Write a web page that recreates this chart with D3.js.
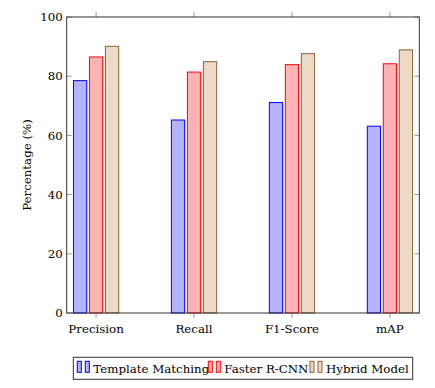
<!DOCTYPE html>
<html>
<head>
<meta charset="utf-8">
<script src="https://cdn.jsdelivr.net/npm/d3@7"></script>
<style>
  body { margin: 0; background: #fff; }
  svg text { font-family: "DejaVu Serif", "Liberation Serif", serif; fill: #000; }
</style>
</head>
<body>
<svg id="chart" width="435" height="388"></svg>
<script>
// values
const categories = ["Precision", "Recall", "F1-Score", "mAP"];
const seriesNames = ["Template Matching", "Faster R-CNN", "Hybrid Model"];
const templateMatching = [78.5, 65.2, 71.1, 63.1];
const fasterRCNN = [86.5, 81.4, 83.9, 84.2];
const hybridModel = [90.1, 84.9, 87.6, 88.9];
const yTicks = [0, 20, 40, 60, 80, 100];

const seriesValues = [templateMatching, fasterRCNN, hybridModel];
const fills = ["#b3b3ff", "#ffb3b3", "#ecd9c6"];
const strokes = ["#0000ff", "#ff0000", "#8c6239"];

const svg = d3.select("#chart");
const margin = { left: 66.7, top: 17, right: 15.7, bottom: 75 };
const width = 435 - margin.left - margin.right;
const height = 388 - margin.top - margin.bottom;
const fontSize = 11.8;

const g = svg.append("g").attr("transform", `translate(${margin.left},${margin.top})`);

const x = d3.scalePoint().domain(categories).range([0, width]).padding(0.3);
const xInner = d3.scaleBand().domain(seriesNames).range([-24, 24]).paddingInner(0.17).paddingOuter(0.085);
const y = d3.scaleLinear().domain([0, 100]).range([height, 0]);

// bars
seriesNames.forEach((name, si) => {
  g.append("g")
    .selectAll("rect")
    .data(seriesValues[si])
    .enter()
    .append("rect")
    .attr("x", (d, i) => x(categories[i]) + xInner(name))
    .attr("y", (d) => y(d))
    .attr("width", xInner.bandwidth())
    .attr("height", (d) => y(0) - y(d))
    .attr("fill", fills[si])
    .attr("stroke", strokes[si])
    .attr("stroke-width", 1);
});

// ticks: y inside on both sides, x outside top and bottom
const tickColor = "#999";
g.selectAll(".ytl").data(yTicks).enter().append("line")
  .attr("x1", 0).attr("x2", 5).attr("y1", (d) => y(d)).attr("y2", (d) => y(d))
  .attr("stroke", tickColor);
g.selectAll(".ytr").data(yTicks).enter().append("line")
  .attr("x1", width).attr("x2", width - 5).attr("y1", (d) => y(d)).attr("y2", (d) => y(d))
  .attr("stroke", tickColor);
g.selectAll(".xtb").data(categories).enter().append("line")
  .attr("x1", (d) => x(d)).attr("x2", (d) => x(d)).attr("y1", height).attr("y2", height + 5)
  .attr("stroke", tickColor);
g.selectAll(".xtt").data(categories).enter().append("line")
  .attr("x1", (d) => x(d)).attr("x2", (d) => x(d)).attr("y1", 0).attr("y2", -5)
  .attr("stroke", tickColor);

// frame
g.append("rect").attr("width", width).attr("height", height)
  .attr("fill", "none").attr("stroke", "#333").attr("stroke-width", 1);

// tick labels
g.selectAll(".ylab").data(yTicks).enter().append("text")
  .attr("x", -4).attr("y", (d) => y(d)).attr("dy", "0.35em")
  .attr("text-anchor", "end").attr("font-size", fontSize)
  .text((d) => d);
g.selectAll(".xlab").data(categories).enter().append("text")
  .attr("x", (d) => x(d)).attr("y", height + 20)
  .attr("text-anchor", "middle").attr("font-size", fontSize)
  .text((d) => d);

// y axis title
g.append("text")
  .attr("transform", `translate(-36,${height / 2}) rotate(-90)`)
  .attr("text-anchor", "middle").attr("font-size", fontSize)
  .text("Percentage (%)");

// legend
const legend = svg.append("g").attr("transform", "translate(73.3,357.3)");
legend.append("rect").attr("width", 339.4).attr("height", 22)
  .attr("fill", "#fff").attr("stroke", "#333").attr("stroke-width", 1);
const legendX = [4, 135, 236.7];
seriesNames.forEach((name, si) => {
  const item = legend.append("g").attr("transform", `translate(${legendX[si]},0)`);
  [0, 8].forEach((off) => {
    item.append("rect").attr("x", off).attr("y", 4).attr("width", 4).attr("height", 11)
      .attr("fill", fills[si]).attr("stroke", strokes[si]);
  });
  item.append("text").attr("x", 16).attr("y", 15.5).attr("font-size", fontSize).text(name);
});
</script>
</body>
</html>
